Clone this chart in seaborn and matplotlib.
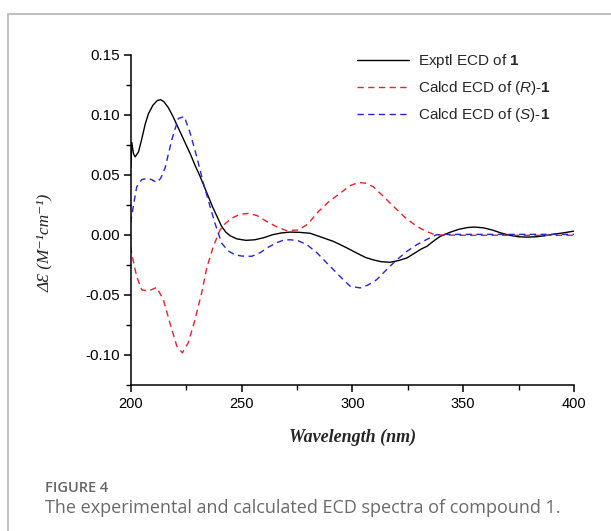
import matplotlib
matplotlib.use("Agg")
import matplotlib.pyplot as plt
import seaborn as sns
import pandas as pd
from matplotlib.ticker import MultipleLocator, FormatStrFormatter
from matplotlib.patches import Rectangle
from matplotlib.lines import Line2D

# ---- data ----
exp_wl = [200, 200.5, 201.2, 202, 203.5, 205, 206.5, 208, 210, 212, 213.5, 215, 217, 219, 221,
          223, 225, 227, 229, 231, 233, 235, 237, 239, 241, 243, 245, 248, 252, 256, 260,
          264, 268, 272, 276, 281, 286, 291.5, 297, 302, 306, 309.5, 313, 317, 321, 324.6,
          328, 331, 333.6, 336.5, 339.6, 344, 348, 352, 355, 359, 363, 367, 371, 375, 379,
          383, 387, 391, 395, 400]
exp_val = [0.056, 0.077, 0.068, 0.065, 0.069, 0.080, 0.092, 0.101, 0.108, 0.112, 0.1127, 0.111,
           0.106, 0.099, 0.091, 0.083, 0.075, 0.067, 0.058, 0.050, 0.041, 0.032, 0.023, 0.015,
           0.007, 0.002, -0.001, -0.0035, -0.0047, -0.0042, -0.0025, 0.0, 0.0015, 0.0022,
           0.002, 0.0012, -0.002, -0.0056, -0.0105, -0.0153, -0.019, -0.021, -0.0225, -0.023,
           -0.0215, -0.0194, -0.0155, -0.012, -0.0097, -0.0055, -0.0014, 0.002, 0.0045, 0.006,
           0.0064, 0.0058, 0.004, 0.0015, -0.0005, -0.0017, -0.002, -0.0017, -0.0008, 0.0005,
           0.0015, 0.003]

r_wl = [200, 200.4, 202.7, 205, 208, 211.7, 214.7, 217.7, 220.8, 223.3, 226, 229, 232, 234.3,
        237.3, 240.3, 242.5, 245.6, 249.3, 253, 257, 261.4, 266, 270.4, 275.7, 280, 284, 289,
        294.5, 299, 302.8, 306, 309.5, 314, 318.6, 324, 329.1, 333, 336.6, 340, 350, 360, 370,
        380, 390, 400]
r_val = [-0.010, -0.0153, -0.035, -0.046, -0.047, -0.044, -0.054, -0.0736, -0.093, -0.0986,
         -0.090, -0.071, -0.0486, -0.0278, -0.0097, 0.004, 0.009, 0.0139, 0.017, 0.0178, 0.016,
         0.011, 0.0065, 0.0033, 0.004, 0.009, 0.018, 0.027, 0.0347, 0.041, 0.0436, 0.043, 0.040,
         0.032, 0.0236, 0.014, 0.007, 0.003, 0.0005, -0.0002, -0.0005, -0.0005, -0.0005,
         -0.0005, -0.0005, -0.0005]

s_wl = [200, 200.4, 202.7, 205, 207.2, 209.5, 211.7, 213.5, 215.5, 218.5, 221.5, 224.2, 226.8,
        229.8, 232.8, 235.8, 238, 241, 244, 247, 250, 254.6, 258.4, 262, 266, 269, 272, 275.5,
        279.5, 284, 288.5, 294, 299, 303.5, 307, 311, 315.5, 320, 324.5, 329.1, 333.5, 338,
        342, 350, 360, 370, 380, 390, 400]
s_val = [0.010, 0.0153, 0.040, 0.046, 0.047, 0.046, 0.0436, 0.047, 0.0556, 0.079, 0.097,
         0.0986, 0.085, 0.065, 0.043, 0.0236, 0.0097, -0.007, -0.0135, -0.0167, -0.0178,
         -0.018, -0.015, -0.0105, -0.0065, -0.0045, -0.0042, -0.005, -0.0083, -0.015, -0.0236,
         -0.034, -0.043, -0.0444, -0.042, -0.0375, -0.029, -0.021, -0.014, -0.0083, -0.004,
         0.0, 0.0003, 0.0003, 0.0003, 0.0003, 0.0003, 0.0003, 0.0003]

labels = ["Exptl ECD of $\\mathbf{1}$", "Calcd ECD of ($\\mathit{R}$)-$\\mathbf{1}$",
          "Calcd ECD of ($\\mathit{S}$)-$\\mathbf{1}$"]

# ---- style ----
sns.set_style("ticks")
plt.rcParams["font.family"] = ["Liberation Sans", "DejaVu Sans"]
plt.rcParams["axes.unicode_minus"] = False
plt.rcParams["mathtext.fontset"] = "custom"
plt.rcParams["mathtext.rm"] = "Liberation Sans"
plt.rcParams["mathtext.it"] = "Liberation Sans:italic"
plt.rcParams["mathtext.bf"] = "Liberation Sans:bold"

fig = plt.figure(figsize=(6.11, 5.31), dpi=100)
ax = fig.add_axes([130.7 / 611, 1 - 384.5 / 531, 443.3 / 611, 329.5 / 531])

red = "#e8202a"
blue = "#2424d8"
sns.lineplot(x=exp_wl, y=exp_val, ax=ax, color="black", lw=1.0, estimator=None, sort=False)
sns.lineplot(x=r_wl, y=r_val, ax=ax, color=red, lw=1.0, estimator=None, sort=False)
sns.lineplot(x=s_wl, y=s_val, ax=ax, color=blue, lw=1.0, estimator=None, sort=False)
lines = ax.get_lines()
lines[1].set_dashes((4.5, 3.2))
lines[2].set_dashes((4.5, 3.2))

ax.set_xlim(200, 400)
ax.set_ylim(-0.125, 0.15)
ax.xaxis.set_major_locator(MultipleLocator(50))
ax.xaxis.set_minor_locator(MultipleLocator(25))
ax.yaxis.set_major_locator(MultipleLocator(0.05))
ax.yaxis.set_minor_locator(MultipleLocator(0.025))
ax.yaxis.set_major_formatter(FormatStrFormatter("%.2f"))
for s in ["top", "right"]:
    ax.spines[s].set_visible(False)
for s in ["left", "bottom"]:
    ax.spines[s].set_linewidth(1.1)
    ax.spines[s].set_color("black")
ax.tick_params(which="major", direction="out", length=5, width=1.1, colors="black")
ax.tick_params(which="minor", direction="out", length=3.5, width=1.0, colors="black")
ax.tick_params(axis="y", labelsize=11, pad=3)
ax.tick_params(axis="x", labelsize=10.5, pad=4)

ax.set_xlabel("Wavelength (nm)", family=["Liberation Serif", "DejaVu Serif"], style="italic",
              weight="bold", fontsize=13)
ax.xaxis.set_label_coords(0.5, -0.135)
ax.set_ylabel("ΔƐ (M⁻¹cm⁻¹)", family=["Liberation Serif", "DejaVu Serif"], style="italic",
              fontsize=12.5)
ax.yaxis.set_label_coords(-0.175, 0.43)

handles = [Line2D([], [], color="black", lw=1.0),
           Line2D([], [], color=red, lw=1.0, dashes=(4.5, 3.2)),
           Line2D([], [], color=blue, lw=1.0, dashes=(4.5, 3.2))]
fig.legend(handles, labels, loc="upper left", bbox_to_anchor=(357 / 611, 1 - 52 / 531),
           frameon=False, fontsize=11, handlelength=3.4, handletextpad=0.6,
           labelspacing=0.6, borderpad=0, borderaxespad=0)

# frame of the figure panel
fig.add_artist(Rectangle((8 / 611, -0.1), 1.2, 1.1 - 14 / 531, transform=fig.transFigure,
                         fill=False, edgecolor="#b5b5b5", lw=1.2))

fig.text(45 / 611, 1 - 488 / 531, "FIGURE 4", family="Open Sans", fontsize=10.5,
         weight="semibold", color="#666666", va="center", ha="left")
fig.text(45 / 611, 1 - 508 / 531, "The experimental and calculated ECD spectra of compound 1.",
         family="Open Sans", fontsize=13, color="#6a6a6a", va="center", ha="left")

fig.savefig("out.png", dpi=100)
